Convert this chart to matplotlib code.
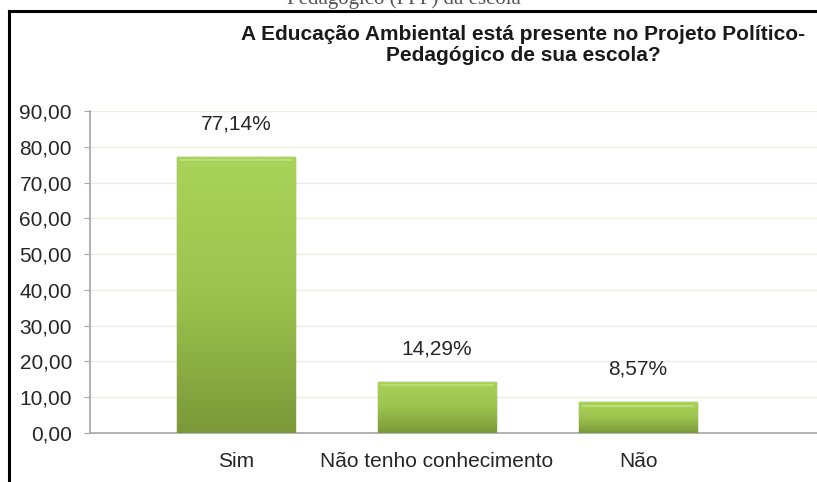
import matplotlib
matplotlib.use("Agg")
import matplotlib.pyplot as plt
from matplotlib import font_manager
from matplotlib.lines import Line2D
from matplotlib.colors import LinearSegmentedColormap
import numpy as np

categories = ["Sim", "Não tenho conhecimento", "Não"]
values = [77.14, 14.29, 8.57]
value_labels = ["77,14%", "14,29%", "8,57%"]
yticks = [0, 10, 20, 30, 40, 50, 60, 70, 80, 90]
ytick_labels = ["0,00", "10,00", "20,00", "30,00", "40,00", "50,00", "60,00", "70,00", "80,00", "90,00"]
title = "A Educação Ambiental está presente no Projeto Político-\nPedagógico de sua escola?"
caption = "Pedagógico (PPP) da escola"

names = {f.name for f in font_manager.fontManager.ttflist}
narrow = "Liberation Sans Narrow" if "Liberation Sans Narrow" in names else "Liberation Sans"
plt.rcParams["font.family"] = ["Liberation Sans", "DejaVu Sans"]

W, H = 817, 482
fig = plt.figure(figsize=(W / 100, H / 100), dpi=100)
ax = fig.add_axes([90 / W, 1 - 433 / H, 1 - 90 / W, (433 - 111) / H])

x = np.arange(len(categories))
bw = 0.59
bars = ax.bar(x, values, width=bw, color="#94bb48", edgecolor="#6f8f31", linewidth=1.0, zorder=3)

# vertical gradient inside each bar
grad = np.linspace(0, 1, 256).reshape(-1, 1)
cmap = LinearSegmentedColormap.from_list("g", ["#7b9939", "#9cc34e", "#aad35a"])
for b in bars:
    x0, w, h = b.get_x(), b.get_width(), b.get_height()
    im = ax.imshow(grad, cmap=cmap, aspect="auto", origin="lower",
                   extent=[x0, x0 + w, 0, h], zorder=3.5)
    im.set_clip_path(b)
    ax.plot([x0 + w * 0.04, x0 + w * 0.96], [h - 0.9, h - 0.9], color="#c2e27e", lw=1.2, zorder=4)

for xi, v, lab in zip(x, values, value_labels):
    ax.annotate(lab, (xi, v), xytext=(0, 24), textcoords="offset points",
                ha="center", va="center", fontsize=15, color="#262626")

ax.set_ylim(0, 90)
ax.set_xlim(-0.726, 2.89)
ax.set_yticks(yticks)
ax.set_yticklabels(ytick_labels)
ax.set_xticks(x)
ax.set_xticklabels(categories)
ax.tick_params(axis="y", length=4, color="#a6a6a6", pad=9, labelsize=15, labelcolor="#262626")
ax.tick_params(axis="x", length=0, pad=14, labelsize=15, labelcolor="#262626")
ax.yaxis.grid(True, color="#eeeddc", lw=1.0, zorder=0)
ax.set_axisbelow(True)
for s in ["top", "right"]:
    ax.spines[s].set_visible(False)
ax.spines["left"].set_color("#a6a6a6")
ax.spines["bottom"].set_color("#a6a6a6")
ax.spines["left"].set_linewidth(1.2)
ax.spines["bottom"].set_linewidth(1.2)

fig.text(523 / W, 1 - 45 / H, title, ha="center", va="center", fontsize=15,
         fontweight="bold", family=[narrow, "DejaVu Sans"], color="#1a1a1a", linespacing=1.15)

# caption at the very top, partly cut off as in the reference
fig.text(404 / W, 1 - 4 / H, caption, ha="center", va="baseline", fontsize=15,
         family=["Liberation Serif", "DejaVu Serif"], color="#555555")

# outer black frame (left and top)
fig.add_artist(Line2D([9 / W, 9 / W], [0, 1 - 11 / H], transform=fig.transFigure, color="black", lw=2.2))
fig.add_artist(Line2D([9 / W, 1], [1 - 11 / H, 1 - 11 / H], transform=fig.transFigure, color="black", lw=2.2))

fig.savefig("out.png", dpi=100)
